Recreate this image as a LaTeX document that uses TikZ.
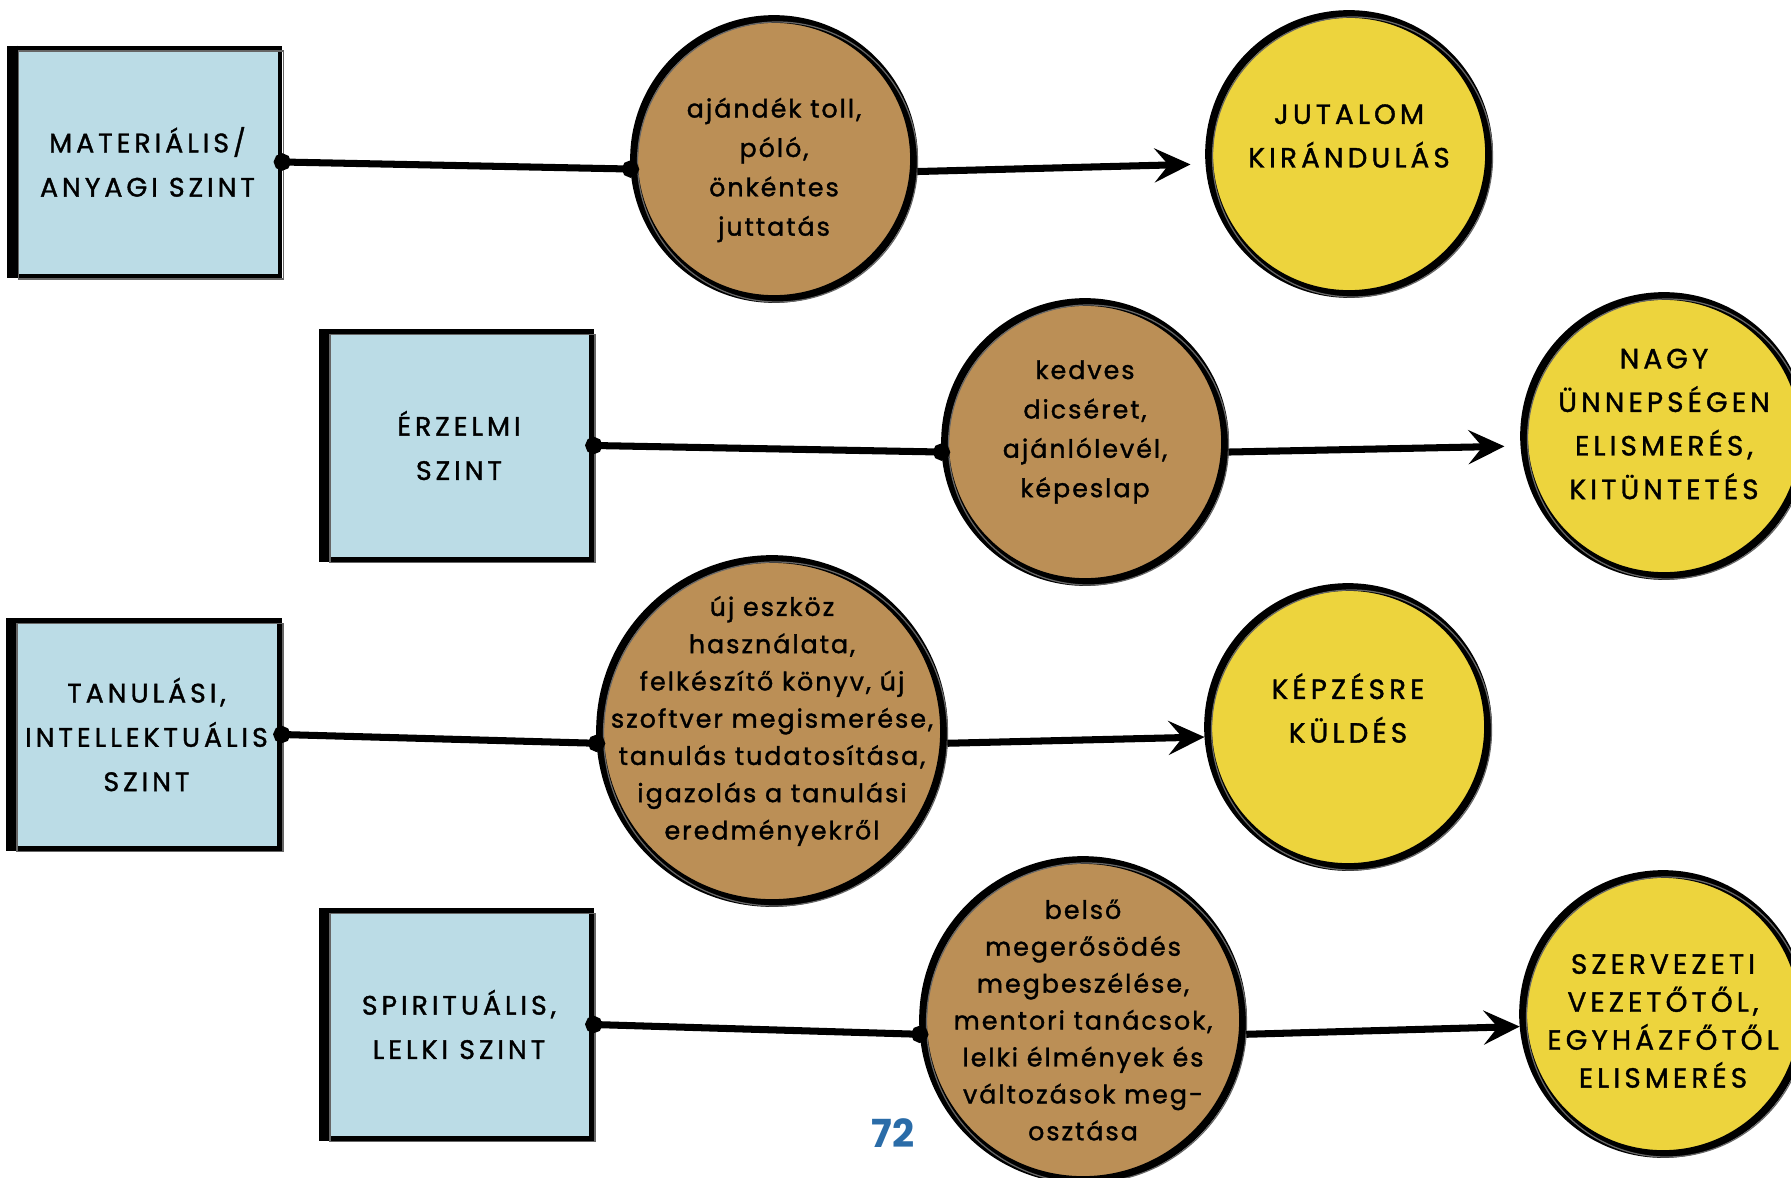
\documentclass[tikz,border=0pt]{standalone}
\usepackage{fontspec}
\usetikzlibrary{positioning,arrows.meta}

\setmainfont{Poppins}
\newfontfamily\handfont[LetterSpace=8,FakeBold=1.4]{Poppins}
\newfontfamily\capsfont[LetterSpace=15,FakeBold=1.4]{Poppins}

\definecolor{boxblue}{HTML}{BBDCE6}
\definecolor{rewbrown}{HTML}{BB8F56}
\definecolor{goalyellow}{HTML}{EDD43D}
\definecolor{pageblue}{HTML}{2A6CA8}

\newcommand{\lvlfont}{\capsfont\fontsize{7.6}{12.6}\selectfont}
\newcommand{\rewfont}{\handfont\fontsize{7.2}{11.2}\selectfont}
\newcommand{\goalfont}{\capsfont\fontsize{7.9}{12.4}\selectfont}

\tikzset{
  sketch/.style={postaction={draw=black!60,line width=0.35pt,transform canvas={xshift=0.35mm,yshift=-0.3mm}}},
  lvlbox/.style={draw,line width=1.3pt,fill=boxblue,minimum width=2.65cm,minimum height=2.28cm,align=center,font=\lvlfont,sketch},
  reward/.style={circle,draw,line width=2.2pt,fill=rewbrown,inner sep=0pt,sketch},
  goal/.style={circle,draw,line width=2.2pt,fill=goalyellow,inner sep=0pt,minimum size=2.8cm,sketch},
  rewtxt/.style={align=center,font=\rewfont},
  goaltxt/.style={align=center,font=\goalfont},
  link/.style={line width=2pt,{Circle[length=1.7mm]}-{Circle[length=1.7mm]},shorten <=-0.85mm,shorten >=-0.85mm},
  push/.style={line width=2pt,-{Stealth[length=3.6mm,width=3.4mm,inset=1.4mm]}}
}

\begin{document}
\begin{tikzpicture}
\useasboundingbox (0,0) rectangle (17.91,11.77);

\node[lvlbox] (lvlA) at (1.475,10.15) {MATERIÁLIS/\\ANYAGI SZINT};
\node[lvlbox] (lvlB) at (4.59,7.315) {ÉRZELMI\\SZINT};
\node[lvlbox] (lvlC) at (1.465,4.425) {TANULÁSI,\\INTELLEKTUÁLIS\\SZINT};
\node[lvlbox] (lvlD) at (4.59,1.525) {SPIRITUÁLIS,\\LELKI SZINT};

\draw[line width=3pt] (lvlA.north west) -- (lvlA.south west);
\draw[line width=3pt] (lvlB.north west) -- (lvlB.south west);
\draw[line width=3pt] (lvlC.north west) -- (lvlC.south west);
\draw[line width=3pt] (lvlD.north west) -- (lvlD.south west);

\node[reward,minimum size=2.8cm,label={[rewtxt,yshift=-0.11cm]center:{ajándék toll,\\póló,\\önkéntes\\juttatás}}] (rewA) at (7.74,10.18) {};
\node[reward,minimum size=2.8cm,label={[rewtxt,yshift=0.1cm]center:{kedves\\dicséret,\\ajánlólevél,\\képeslap}}] (rewB) at (10.85,7.35) {};
\node[reward,minimum size=3.44cm,label={[rewtxt,font=\handfont\fontsize{7.2}{10.6}\selectfont,yshift=0.1cm]center:{új eszköz\\használata,\\felkészítő könyv, új\\szoftver megismerése,\\tanulás tudatosítása,\\igazolás a tanulási\\eredményekről}}] (rewC) at (7.72,4.46) {};
\node[reward,minimum size=3.2cm,label={[rewtxt,font=\handfont\fontsize{7.2}{10.5}\selectfont]center:{belső\\megerősödés\\megbeszélése,\\mentori tanácsok,\\lelki élmények és\\változások meg-\\osztása}}] (rewD) at (10.83,1.57) {};

\node[goal,label={[goaltxt,yshift=0.18cm]center:{JUTALOM\\KIRÁNDULÁS}}] (goalA) at (13.49,10.23) {};
\node[goal,label={[goaltxt,yshift=0.12cm]center:{NAGY\\ÜNNEPSÉGEN\\ELISMERÉS,\\KITÜNTETÉS}}] (goalB) at (16.64,7.41) {};
\node[goal,label={[goaltxt,yshift=0.19cm]center:{KÉPZÉSRE\\KÜLDÉS}}] (goalC) at (13.48,4.50) {};
\node[goal,label={[goaltxt,font=\capsfont\fontsize{7.9}{10.8}\selectfont,yshift=-0.07cm]center:{SZERVEZETI\\VEZETŐTŐL,\\EGYHÁZFŐTŐL\\ELISMERÉS}}] (goalD) at (16.63,1.63) {};

\draw[link] (lvlA.east) -- (rewA.184);
\draw[link] (lvlB.east) -- (rewB.184);
\draw[link] (lvlC.east) -- (rewC.184);
\draw[link] (lvlD.east) -- (rewD.185);

\draw[push,shorten >=0.15cm] (rewA.-5) -- (goalA.184);
\draw[push,shorten >=0.16cm] (rewB.-4) -- (goalB.184);
\draw[push] (rewC.-4) -- (goalC.184);
\draw[push] (rewD.-5) -- (goalD.185);

\node[font=\bfseries\fontsize{11}{13}\selectfont,text=pageblue] (pagenum) at (8.93,0.44) {72};

\end{tikzpicture}
\end{document}
